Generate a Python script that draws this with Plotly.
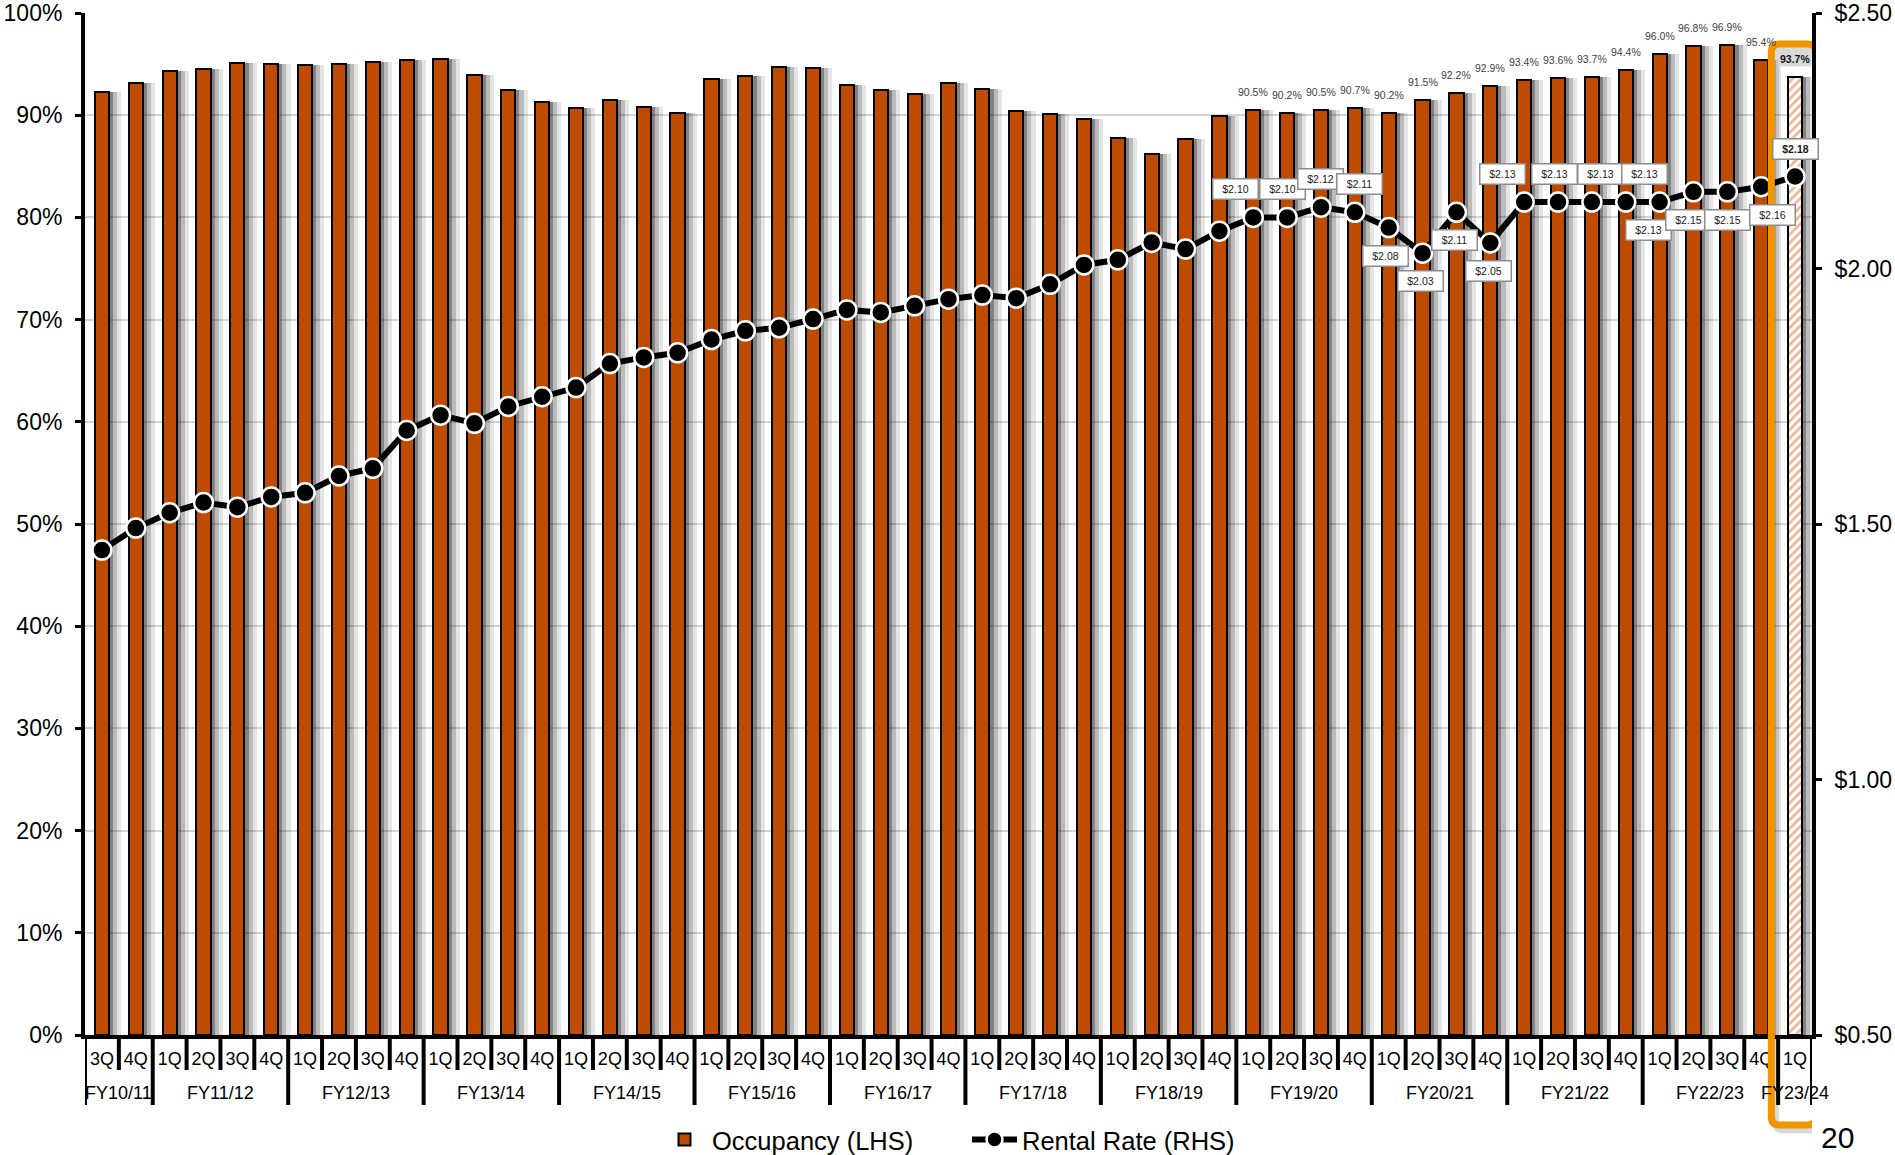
import plotly.graph_objects as go

# ---------------- data ----------------
fiscal_years = ["FY10/11", "FY11/12", "FY12/13", "FY13/14", "FY14/15", "FY15/16", "FY16/17",
                "FY17/18", "FY18/19", "FY19/20", "FY20/21", "FY21/22", "FY22/23", "FY23/24"]
quarters_by_year = [["3Q", "4Q"]] + [["1Q", "2Q", "3Q", "4Q"]] * 12 + [["1Q"]]

quarter_labels = [q for qs in quarters_by_year for q in qs]

occupancy = [92.3, 93.2, 94.3, 94.5, 95.1, 95.0, 94.9, 95.0, 95.2, 95.4,
             95.5, 93.9, 92.5, 91.3, 90.7, 91.5, 90.8, 90.2, 93.5, 93.8,
             94.7, 94.6, 93.0, 92.5, 92.1, 93.2, 92.6, 90.4, 90.1, 89.6,
             87.8, 86.2, 87.7, 89.9, 90.5, 90.2, 90.5, 90.7, 90.2, 91.5,
             92.2, 92.9, 93.4, 93.6, 93.7, 94.4, 96.0, 96.8, 96.9, 95.4,
             93.7]

rental_rate = [1.449, 1.492, 1.522, 1.542, 1.533, 1.553, 1.561, 1.594, 1.609, 1.683,
               1.713, 1.697, 1.730, 1.749, 1.767, 1.814, 1.826, 1.835, 1.861, 1.878,
               1.884, 1.901, 1.919, 1.914, 1.927, 1.940, 1.948, 1.942, 1.969, 2.007,
               2.017, 2.051, 2.038, 2.073, 2.10, 2.10, 2.12, 2.11, 2.08, 2.03,
               2.11, 2.05, 2.13, 2.13, 2.13, 2.13, 2.13, 2.15, 2.15, 2.16,
               2.18]

first_labelled = 34  # data labels shown from 1Q FY19/20 onward

# label styling (one entry per labelled quarter)
rental_label_side = ["above", "above", "above", "above", "below", "below", "below", "below",
                     "above", "above", "above", "above", "below", "below", "below", "below", "above"]
rental_label_dx = [-18, -5, 0, 5, -3, -2, -2, -2, -22, -4, 9, 19, -11, -5, 0, 11, 0]

# ---------------- styles ----------------
FONT = "Liberation Sans"
ORANGE = "#BE4B00"
HILITE = "#F29400"
n = len(occupancy)
xs = list(range(n))
last = n - 1

W, H = 1895, 1155
ML, MR, MT, MB = 85, 83, 13, 120
plot_h = float(H - MT - MB)
plot_w = float(W - ML - MR)

bar_w = 0.42
pattern_shapes = [""] * (n - 1) + ["/"]

fig = go.Figure()

# soft drop shadows behind bars
for dx, alpha in [(0.36, 0.10), (0.24, 0.18), (0.12, 0.30)]:
    fig.add_trace(go.Bar(
        x=xs, y=occupancy, width=bar_w, offset=-bar_w / 2 + dx,
        marker=dict(color=f"rgba(0,0,0,{alpha})", line=dict(width=0)),
        showlegend=False, hoverinfo="skip", yaxis="y"))

fig.add_trace(go.Bar(
    x=xs, y=occupancy, width=bar_w, offset=-bar_w / 2,
    name="Occupancy (LHS)",
    marker=dict(color=ORANGE, line=dict(color="black", width=2),
                pattern=dict(shape=pattern_shapes, bgcolor="white", fgcolor="#E06A2A",
                             size=6, solidity=0.45)),
    yaxis="y"))

fig.add_trace(go.Scatter(
    x=xs, y=rental_rate, mode="lines+markers", name="Rental Rate (RHS)",
    line=dict(color="black", width=6),
    marker=dict(color="black", size=19, line=dict(color="white", width=2.5)),
    yaxis="y2"))

annotations = []
shapes = []

# data labels
for k, i in enumerate(range(first_labelled, n)):
    is_last = i == last
    annotations.append(dict(
        x=i, y=occupancy[i], xref="x", yref="y", showarrow=False,
        text=(f"<b>{occupancy[i]:.1f}%</b>" if is_last else f"{occupancy[i]:.1f}%"),
        yshift=18, font=dict(family=FONT, size=10.5, color="#111111" if is_last else "#404040"),
        bgcolor="#D9D9D9" if is_last else None))
    annotations.append(dict(
        x=i, y=rental_rate[i], xref="x", yref="y2", showarrow=False,
        text=(f"<b>${rental_rate[i]:.2f}</b>" if is_last else f"${rental_rate[i]:.2f}"),
        yshift=28 if rental_label_side[k] == "above" else -28,
        xshift=rental_label_dx[k],
        font=dict(family=FONT, size=10.5, color="#1A1A1A"),
        bgcolor="white", bordercolor="#8C8C8C", borderwidth=1.5, borderpad=2,
        width=40, height=15))

# x-axis group labels, dividers and quarter ticks
short_tick = -35 / plot_h
long_tick = -70 / plot_h
start = 0
boundaries = {-0.5}
for fy, qs in zip(fiscal_years, quarters_by_year):
    idx = list(range(start, start + len(qs)))
    annotations.append(dict(
        x=sum(idx) / len(idx), y=-58 / plot_h, xref="x", yref="paper", showarrow=False,
        text=fy, font=dict(family=FONT, size=18, color="black"), yanchor="middle"))
    start += len(qs)
    boundaries.add(start - 0.5)

for b in range(1, n):
    xb = b - 0.5
    is_long = xb in boundaries
    shapes.append(dict(type="line", xref="x", yref="paper", x0=xb, x1=xb, y0=0,
                       y1=long_tick if is_long else short_tick,
                       line=dict(color="black", width=4)))
for xb in (-0.5, n - 0.5):
    shapes.append(dict(type="line", xref="x", yref="paper", x0=xb, x1=xb, y0=0, y1=long_tick,
                       line=dict(color="black", width=4)))

# highlight box around latest quarter (rounded)
x0, x1 = last - 0.70, last + 0.62
y0, y1 = -90 / plot_h, 991 / plot_h
rx, ry = 0.25, 8 / plot_h


def rounded(x0, x1, y0, y1):
    return (f"M {x0 + rx},{y1} L {x1 - rx},{y1} Q {x1},{y1} {x1},{y1 - ry} "
            f"L {x1},{y0 + ry} Q {x1},{y0} {x1 - rx},{y0} L {x0 + rx},{y0} "
            f"Q {x0},{y0} {x0},{y0 + ry} L {x0},{y1 - ry} Q {x0},{y1} {x0 + rx},{y1} Z")


shapes.append(dict(type="path", xref="x", yref="paper", layer="above",
                   path=rounded(x0 + 0.12, x1 + 0.12, y0 - 5 / plot_h, y1 - 5 / plot_h),
                   line=dict(color="rgba(0,0,0,0.15)", width=7)))
shapes.append(dict(type="path", xref="x", yref="paper", layer="above",
                   path=rounded(x0, x1, y0, y1), line=dict(color=HILITE, width=7)))

# page number
annotations.append(dict(x=(1837 - ML) / plot_w, y=-(1137 - (H - MB)) / plot_h,
                        xref="paper", yref="paper", showarrow=False,
                        text="20", font=dict(family=FONT, size=30, color="black"),
                        xanchor="center", yanchor="middle"))

fig.update_layout(
    width=W, height=H,
    autosize=False,
    margin=dict(l=ML, r=MR, t=MT, b=MB, autoexpand=False),
    paper_bgcolor="white", plot_bgcolor="white",
    barmode="overlay", bargap=0,
    font=dict(family=FONT, color="black"),
    xaxis=dict(range=[-0.5, n - 0.5], tickmode="array", tickvals=xs, ticktext=quarter_labels,
               tickfont=dict(family=FONT, size=18, color="black"), ticks="",
               ticklabelstandoff=4, automargin=False,
               showline=True, linecolor="black", linewidth=4, showgrid=False, zeroline=False,
               fixedrange=True),
    yaxis=dict(range=[0, 100], dtick=10, ticksuffix="%", showgrid=True, gridcolor="#D4D4D4",
               gridwidth=1.5, showline=True, linecolor="black", linewidth=4, ticks="outside",
               ticklen=6, tickwidth=3, tickcolor="black", zeroline=False, automargin=False,
               tickfont=dict(family=FONT, size=23, color="black"), ticklabelstandoff=8),
    yaxis2=dict(range=[0.5, 2.5], dtick=0.5, tickprefix="$", tickformat=".2f", overlaying="y",
                side="right", showgrid=False, showline=True, linecolor="black", linewidth=4,
                ticks="outside", ticklen=6, tickwidth=3, tickcolor="black", zeroline=False,
                automargin=False,
                tickfont=dict(family=FONT, size=23, color="black"), ticklabelstandoff=8),
    legend=dict(orientation="h", x=657 / W, xanchor="left", xref="container",
                y=(H - 1140) / H, yanchor="middle", yref="container",
                font=dict(family=FONT, size=25.5, color="black"), itemwidth=45,
                entrywidth=250, entrywidthmode="pixels",
                bgcolor="rgba(0,0,0,0)", traceorder="normal"),
    annotations=annotations,
    shapes=shapes,
    showlegend=True,
)

fig.write_html("out.html", config={"displayModeBar": False},
               post_script="document.body.style.margin='0';document.body.style.overflow='hidden';")
